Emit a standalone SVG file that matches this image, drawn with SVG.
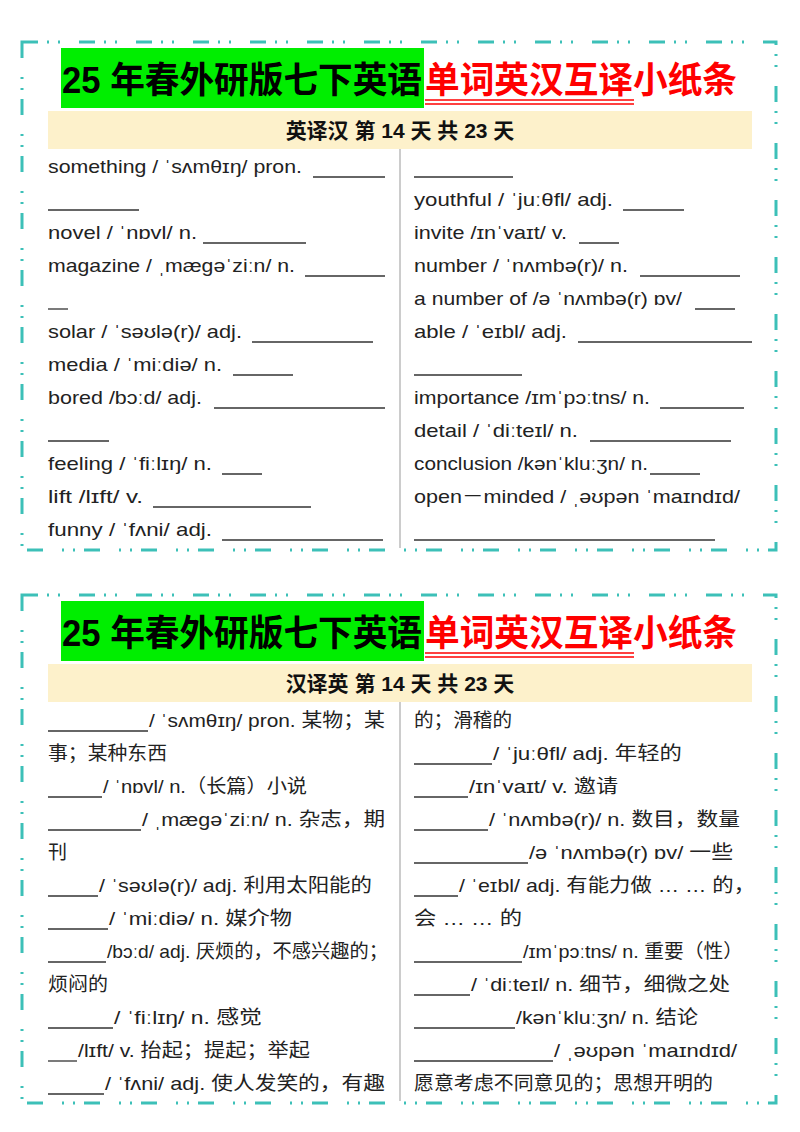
<svg xmlns="http://www.w3.org/2000/svg" width="800" height="1132" viewBox="0 0 800 1132">
<style>
.bd{fill:none;stroke:#3cc0b8;stroke-width:3;stroke-dasharray:16 9 2 9 2 19}
.t{font-family:"Liberation Sans","Noto Sans CJK SC",sans-serif;font-size:19px;fill:#222}
.ti{font-family:"Liberation Sans","Noto Sans CJK SC",sans-serif;font-size:36px;font-weight:bold}
.h{font-family:"Liberation Sans","Noto Sans CJK SC",sans-serif;font-size:21px;font-weight:bold;fill:#111}
.bl{stroke:#333;stroke-width:1.3}
</style>
<rect width="800" height="1132" fill="#fff"/>
<g id="card1">
<rect class="bd" x="22" y="42" width="754" height="508"/>
<rect x="61" y="48" width="363" height="60" fill="#00ee00"/>
<text class="ti" x="62" y="93" textLength="360" lengthAdjust="spacingAndGlyphs" fill="#000">25 年春外研版七下英语</text>
<text class="ti" x="425" y="93" textLength="312" lengthAdjust="spacingAndGlyphs" fill="#f00">单词英汉互译小纸条</text>
<line x1="425" y1="100" x2="634" y2="100" stroke="#f00" stroke-width="1.5"/>
<line x1="425" y1="104" x2="634" y2="104" stroke="#f00" stroke-width="1.5"/>
<rect x="48" y="111" width="704" height="38" fill="#fdf1cb"/>
<text class="h" x="400" y="138" text-anchor="middle">英译汉 第 14 天 共 23 天</text>
<line x1="400" y1="149" x2="400" y2="548" stroke="#bbb" stroke-width="1.5"/>
<g class="t">
<text x="48" y="173" textLength="254" lengthAdjust="spacingAndGlyphs">something /  ˈsʌmθɪŋ/ pron.</text>
<text x="48" y="239" textLength="149" lengthAdjust="spacingAndGlyphs">novel /  ˈnɒvl/ n.</text>
<text x="48" y="272" textLength="247" lengthAdjust="spacingAndGlyphs">magazine /  ˌmæɡəˈziːn/ n.</text>
<text x="48" y="338" textLength="194" lengthAdjust="spacingAndGlyphs">solar /  ˈsəʊlə(r)/ adj.</text>
<text x="48" y="371" textLength="174" lengthAdjust="spacingAndGlyphs">media /  ˈmiːdiə/ n.</text>
<text x="48" y="404" textLength="154" lengthAdjust="spacingAndGlyphs">bored /bɔːd/ adj.</text>
<text x="48" y="470" textLength="164" lengthAdjust="spacingAndGlyphs">feeling /  ˈfiːlɪŋ/ n.</text>
<text x="48" y="503" textLength="95" lengthAdjust="spacingAndGlyphs">lift /lɪft/ v.</text>
<text x="48" y="536" textLength="164" lengthAdjust="spacingAndGlyphs">funny /  ˈfʌni/ adj.</text>
<text x="414" y="206" textLength="199" lengthAdjust="spacingAndGlyphs">youthful /  ˈjuːθfl/ adj.</text>
<text x="414" y="239" textLength="153" lengthAdjust="spacingAndGlyphs">invite /ɪnˈvaɪt/ v.</text>
<text x="414" y="272" textLength="214" lengthAdjust="spacingAndGlyphs">number /  ˈnʌmbə(r)/ n.</text>
<text x="414" y="305" textLength="268" lengthAdjust="spacingAndGlyphs">a number of /ə  ˈnʌmbə(r) ɒv/</text>
<text x="414" y="338" textLength="153" lengthAdjust="spacingAndGlyphs">able /  ˈeɪbl/ adj.</text>
<text x="414" y="404" textLength="236" lengthAdjust="spacingAndGlyphs">importance /ɪmˈpɔːtns/ n.</text>
<text x="414" y="437" textLength="164" lengthAdjust="spacingAndGlyphs">detail /  ˈdiːteɪl/ n.</text>
<text x="414" y="470" textLength="234" lengthAdjust="spacingAndGlyphs">conclusion /kənˈkluːʒn/ n.</text>
<text x="414" y="503" textLength="326" lengthAdjust="spacingAndGlyphs">open－minded /  ˌəʊpən  ˈmaɪndɪd/</text>
</g>
<g class="bl">
<line x1="313" y1="177" x2="385" y2="177"/>
<line x1="48" y1="210" x2="139" y2="210"/>
<line x1="203" y1="243" x2="306" y2="243"/>
<line x1="305" y1="276" x2="385" y2="276"/>
<line x1="48" y1="309" x2="68" y2="309"/>
<line x1="252" y1="342" x2="373" y2="342"/>
<line x1="233" y1="375" x2="293" y2="375"/>
<line x1="214" y1="408" x2="385" y2="408"/>
<line x1="48" y1="441" x2="109" y2="441"/>
<line x1="222" y1="474" x2="262" y2="474"/>
<line x1="153" y1="507" x2="311" y2="507"/>
<line x1="222" y1="540" x2="383" y2="540"/>
<line x1="414" y1="177" x2="513" y2="177"/>
<line x1="623" y1="210" x2="684" y2="210"/>
<line x1="579" y1="243" x2="619" y2="243"/>
<line x1="640" y1="276" x2="740" y2="276"/>
<line x1="695" y1="309" x2="735" y2="309"/>
<line x1="578" y1="342" x2="752" y2="342"/>
<line x1="414" y1="375" x2="522" y2="375"/>
<line x1="660" y1="408" x2="744" y2="408"/>
<line x1="590" y1="441" x2="731" y2="441"/>
<line x1="650" y1="474" x2="700" y2="474"/>
<line x1="414" y1="540" x2="715" y2="540"/>
</g>
</g>
<g id="card2">
<rect class="bd" x="22" y="595" width="754" height="508"/>
<rect x="61" y="601" width="363" height="60" fill="#00ee00"/>
<text class="ti" x="62" y="646" textLength="360" lengthAdjust="spacingAndGlyphs" fill="#000">25 年春外研版七下英语</text>
<text class="ti" x="425" y="646" textLength="312" lengthAdjust="spacingAndGlyphs" fill="#f00">单词英汉互译小纸条</text>
<line x1="425" y1="653" x2="634" y2="653" stroke="#f00" stroke-width="1.5"/>
<line x1="425" y1="657" x2="634" y2="657" stroke="#f00" stroke-width="1.5"/>
<rect x="48" y="664" width="704" height="38" fill="#fdf1cb"/>
<text class="h" x="400" y="691" text-anchor="middle">汉译英 第 14 天 共 23 天</text>
<line x1="400" y1="702" x2="400" y2="1101" stroke="#bbb" stroke-width="1.5"/>
<g class="t">
<text x="149" y="727" textLength="236" lengthAdjust="spacingAndGlyphs">/  ˈsʌmθɪŋ/ pron.  某物；某</text>
<text x="48" y="760" textLength="119" lengthAdjust="spacingAndGlyphs">事；某种东西</text>
<text x="103" y="793" textLength="204" lengthAdjust="spacingAndGlyphs">/  ˈnɒvl/ n.（长篇）小说</text>
<text x="142" y="826" textLength="243" lengthAdjust="spacingAndGlyphs">/  ˌmæɡəˈziːn/ n.  杂志，期</text>
<text x="48" y="859">刊</text>
<text x="99" y="892" textLength="273" lengthAdjust="spacingAndGlyphs">/  ˈsəʊlə(r)/ adj.  利用太阳能的</text>
<text x="109" y="925" textLength="183" lengthAdjust="spacingAndGlyphs">/  ˈmiːdiə/ n.  媒介物</text>
<text x="107" y="958" textLength="281" lengthAdjust="spacingAndGlyphs">/bɔːd/ adj.  厌烦的，不感兴趣的；</text>
<text x="48" y="991" textLength="60" lengthAdjust="spacingAndGlyphs">烦闷的</text>
<text x="114" y="1024" textLength="148" lengthAdjust="spacingAndGlyphs">/  ˈfiːlɪŋ/ n.  感觉</text>
<text x="78" y="1057" textLength="232" lengthAdjust="spacingAndGlyphs">/lɪft/ v.  抬起；提起；举起</text>
<text x="105" y="1090" textLength="280" lengthAdjust="spacingAndGlyphs">/  ˈfʌni/ adj.  使人发笑的，有趣</text>
<text x="414" y="727" textLength="98" lengthAdjust="spacingAndGlyphs">的；滑稽的</text>
<text x="493" y="760" textLength="189" lengthAdjust="spacingAndGlyphs">/  ˈjuːθfl/ adj.  年轻的</text>
<text x="469" y="793" textLength="149" lengthAdjust="spacingAndGlyphs">/ɪnˈvaɪt/ v.  邀请</text>
<text x="489" y="826" textLength="251" lengthAdjust="spacingAndGlyphs">/  ˈnʌmbə(r)/ n.  数目，数量</text>
<text x="529" y="859" textLength="204" lengthAdjust="spacingAndGlyphs">/ə  ˈnʌmbə(r) ɒv/  一些</text>
<text x="459" y="892" textLength="296" lengthAdjust="spacingAndGlyphs">/  ˈeɪbl/ adj.  有能力做 … … 的，</text>
<text x="414" y="925" textLength="108" lengthAdjust="spacingAndGlyphs">会 … … 的</text>
<text x="523" y="958" textLength="220" lengthAdjust="spacingAndGlyphs">/ɪmˈpɔːtns/ n.  重要（性）</text>
<text x="471" y="991" textLength="259" lengthAdjust="spacingAndGlyphs">/  ˈdiːteɪl/ n.  细节，细微之处</text>
<text x="516" y="1024" textLength="182" lengthAdjust="spacingAndGlyphs">/kənˈkluːʒn/ n.  结论</text>
<text x="554" y="1057" textLength="183" lengthAdjust="spacingAndGlyphs">/  ˌəʊpən  ˈmaɪndɪd/</text>
<text x="414" y="1090" textLength="299" lengthAdjust="spacingAndGlyphs">愿意考虑不同意见的；思想开明的</text>
</g>
<g class="bl">
<line x1="48" y1="731" x2="148" y2="731"/>
<line x1="48" y1="797" x2="102" y2="797"/>
<line x1="48" y1="830" x2="141" y2="830"/>
<line x1="48" y1="896" x2="98" y2="896"/>
<line x1="48" y1="929" x2="108" y2="929"/>
<line x1="48" y1="962" x2="106" y2="962"/>
<line x1="48" y1="1028" x2="113" y2="1028"/>
<line x1="48" y1="1061" x2="77" y2="1061"/>
<line x1="48" y1="1094" x2="104" y2="1094"/>
<line x1="414" y1="764" x2="492" y2="764"/>
<line x1="414" y1="797" x2="468" y2="797"/>
<line x1="414" y1="830" x2="488" y2="830"/>
<line x1="414" y1="863" x2="528" y2="863"/>
<line x1="414" y1="896" x2="458" y2="896"/>
<line x1="414" y1="962" x2="522" y2="962"/>
<line x1="414" y1="995" x2="470" y2="995"/>
<line x1="414" y1="1028" x2="515" y2="1028"/>
<line x1="414" y1="1061" x2="553" y2="1061"/>
</g>
</g>
</svg>
